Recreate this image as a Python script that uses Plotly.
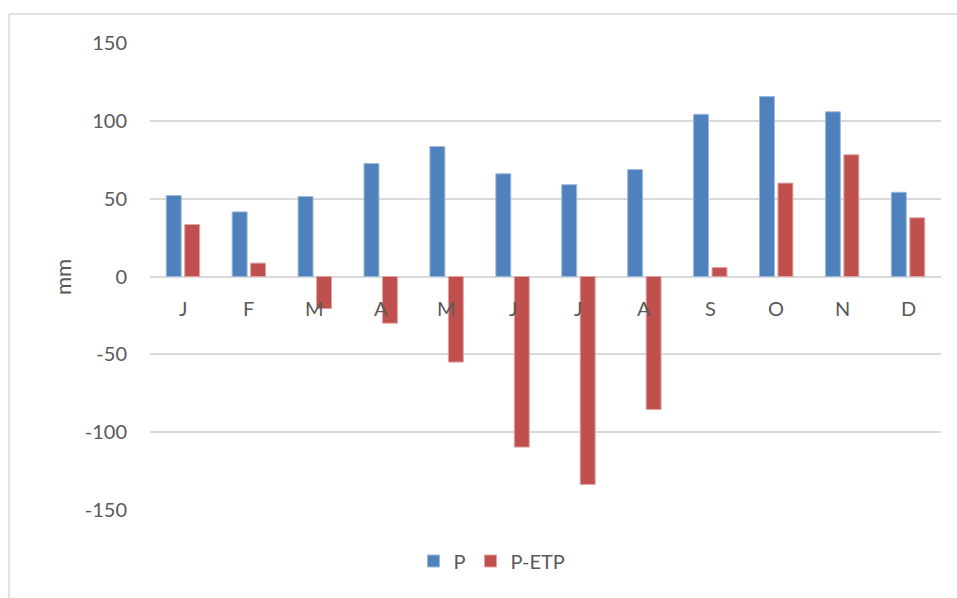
import plotly.graph_objects as go

# Monthly precipitation (P) and water balance (P - ETP), in mm
months = ["J", "F", "M", "A", "M", "J", "J", "A", "S", "O", "N", "D"]
p_values = [52, 41.5, 51.4, 72.6, 83.5, 66, 59, 68.7, 104.2, 115.6, 105.8, 54.1]
p_etp_values = [33.4, 8.6, -20.6, -30, -55, -109.6, -133.6, -85.4, 5.8, 60, 78.2, 37.7]
y_ticks = [-150, -100, -50, 0, 50, 100, 150]
y_tick_text = ["-150", "-100", "-50", "0", "50", "100", "150"]

BLUE = "#4F81BD"
RED = "#C0504D"
TEXT = "#595959"
GRID = "#D9D9D9"
FONT = "Lato"

W, H = 957, 598
L, R, T, B = 150, 16, 43, 88
pw, ph = W - L - R, H - T - B


def px_x(v):
    return (v - L) / pw


def px_y(v):
    return (H - B - v) / ph


# numeric positions so the month letters (some repeated) stay distinct categories
xpos = list(range(len(months)))

fig = go.Figure()
fig.add_trace(go.Bar(
    x=xpos, y=p_values, name="P",
    marker=dict(color=BLUE, line=dict(color="#9DB9DE", width=1)),
))
fig.add_trace(go.Bar(
    x=xpos, y=p_etp_values, name="P-ETP",
    marker=dict(color=RED, line=dict(color="#E0A5A3", width=1)),
))

# month letters sit just under the zero line, as in a spreadsheet chart
for i, m in enumerate(months):
    fig.add_annotation(
        x=i, y=0, xref="x", yref="y", text=m, showarrow=False,
        yanchor="middle", yshift=-31,
        font=dict(family=FONT, size=20, color=TEXT),
    )

# y axis title
fig.add_annotation(
    x=px_x(62), y=px_y(277), xref="paper", yref="paper", text="mm",
    showarrow=False, xanchor="center", yanchor="middle",
    textangle=-90, font=dict(family=FONT, size=22, color=TEXT),
)

# chart-area border (top and left edges)
fig.add_shape(type="line", xref="paper", yref="paper",
              x0=px_x(9), x1=px_x(960), y0=px_y(14), y1=px_y(14),
              line=dict(color=GRID, width=1.5))
fig.add_shape(type="line", xref="paper", yref="paper",
              x0=px_x(9), x1=px_x(9), y0=px_y(14), y1=px_y(600),
              line=dict(color=GRID, width=1.5))

fig.update_layout(
    width=W, height=H,
    margin=dict(l=L, r=R, t=T, b=B),
    paper_bgcolor="white", plot_bgcolor="white",
    barmode="group", bargap=0.44, bargroupgap=0.19,
    font=dict(family=FONT, size=20, color=TEXT),
    showlegend=True,
    legend=dict(
        orientation="h", x=px_x(492), y=px_y(561),
        xanchor="center", yanchor="middle",
        font=dict(family=FONT, size=20, color=TEXT),
        itemwidth=30, traceorder="normal",
    ),
    xaxis=dict(
        range=[-0.5, len(months) - 0.5], showticklabels=False,
        showgrid=False, zeroline=False, showline=False, ticks="",
        fixedrange=True,
    ),
    yaxis=dict(
        range=[-150, 150], tickvals=y_ticks, ticktext=y_tick_text,
        showgrid=True, gridcolor=GRID, gridwidth=1.5,
        zeroline=True, zerolinecolor=GRID, zerolinewidth=1.5,
        showline=False, ticks="", ticklabelstandoff=22,
        tickfont=dict(family=FONT, size=20, color=TEXT),
        fixedrange=True,
    ),
)

fig.write_html("out.html")
